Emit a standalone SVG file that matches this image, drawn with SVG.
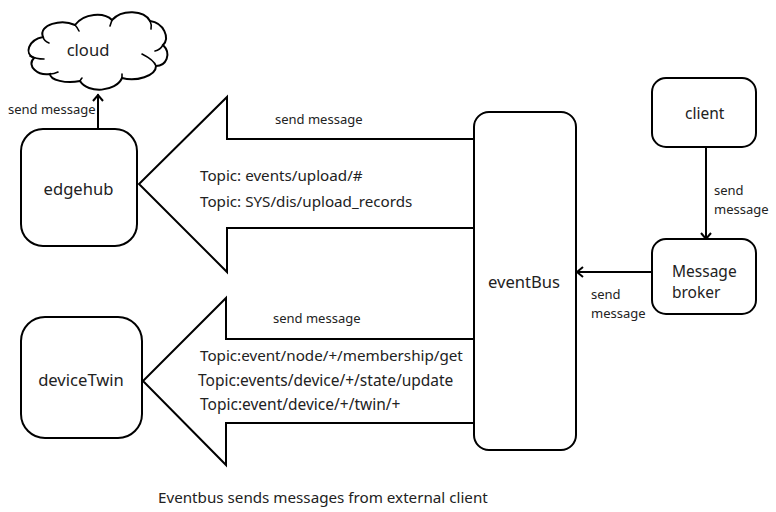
<svg xmlns="http://www.w3.org/2000/svg" width="776" height="512" viewBox="0 0 776 512">
<style>
.s{fill:#fff;stroke:#000;stroke-width:2;stroke-linejoin:miter}
.l{fill:none;stroke:#000;stroke-width:2;stroke-linecap:round}
.c{fill:none;stroke:#000;stroke-width:1.6;stroke-linecap:round}
text{font-family:"Noto Sans","Open Sans","Liberation Sans",sans-serif;fill:#222}
.b{font-size:16.6px;text-anchor:middle}
.n{font-size:15.5px}
.m{font-size:13px}
.t{font-size:15.2px}
.w{font-size:15.5px}
</style>
<defs><marker id="a" markerUnits="userSpaceOnUse" markerWidth="12" markerHeight="12" refX="9" refY="6" orient="auto"><path d="M3 1L9 6L3 11" fill="none" stroke="#000" stroke-width="2"/></marker></defs>
<rect width="776" height="512" fill="#fff"/>
<g id="connectors">
<path class="s" d="M474 139H227V97L139 184L227 272V228H474"/>
<path class="s" d="M474 339H226V298L143 381L226 465V423H474"/>
<path class="l" d="M98 129V95" marker-end="url(#a)"/>
<path class="l" d="M706 147V239" marker-end="url(#a)"/>
<path class="l" d="M652 272H577" marker-end="url(#a)"/>
</g>
<g id="cloud">
<path class="s" d="M43 37C38 24 62 19 75 25C84 13 104 12 112 20C122 9 144 10 150 21C164 23 170 38 163 45C172 54 166 66 156 66C156 76 136 82 122 78C116 92 88 94 80 81C66 84 50 80 50 74C38 76 26 66 34 58C24 54 28 40 43 37Z"/>
<path class="c" d="M30 56Q36 59 44 59M43 37Q44 41 49 43M75 25Q77 27 79 31M112 20Q111 23 110 26M150 21Q152 25 151 29M163 45Q160 50 155 51M156 66Q154 60 142 54M122 78Q122 76 122 74M80 81Q81 79 82 78M50 74Q54 74 58 72"/>
<text class="b" x="88" y="56">cloud</text>
</g>
<g id="edgehub"><rect class="s" x="21" y="129" width="116" height="117" rx="22"/><text class="b" x="78.500" y="195">edgehub</text></g>
<g id="deviceTwin"><rect class="s" x="21" y="317" width="121" height="121" rx="24"/><text class="b" x="81" y="386">deviceTwin</text></g>
<g id="eventBus"><rect class="s" x="474" y="112" width="102" height="338" rx="15"/><text class="b" x="524" y="288">eventBus</text></g>
<g id="client"><rect class="s" x="652" y="78" width="104" height="69" rx="14"/><text class="n" x="685" y="119">client</text></g>
<g id="broker"><rect class="s" x="652" y="239" width="104" height="75" rx="14"/><text class="n" x="672" y="277">Message</text><text class="n" x="672" y="298">broker</text></g>
<g id="labels">
<text class="m" x="8" y="114">send message</text>
<text class="m" x="275" y="124">send message</text>
<text class="m" x="273" y="323">send message</text>
<text class="m" x="714" y="195">send</text>
<text class="m" x="714" y="214">message</text>
<text class="m" x="591" y="299">send</text>
<text class="m" x="591" y="318">message</text>
<text class="t" x="200" y="181">Topic: events/upload/#</text>
<text class="t" x="200" y="207">Topic: SYS/dis/upload_records</text>
<text class="t" x="200" y="361">Topic:event/node/+/membership/get</text>
<text class="w" x="198" y="386">Topic:events/device/+/state/update</text>
<text class="w" x="200" y="410">Topic:event/device/+/twin/+</text>
<text class="t" x="158" y="503">Eventbus sends messages from external client</text>
</g>
</svg>
